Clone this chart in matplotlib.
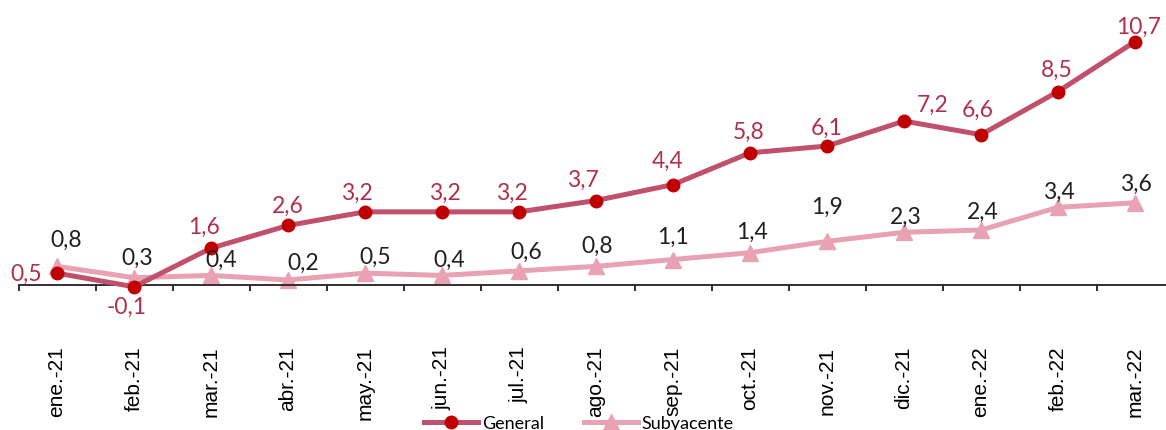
import matplotlib
matplotlib.use('Agg')
import matplotlib.pyplot as plt
from matplotlib.ticker import FixedLocator

months = ['ene.-21', 'feb.-21', 'mar.-21', 'abr.-21', 'may.-21', 'jun.-21', 'jul.-21',
          'ago.-21', 'sep.-21', 'oct.-21', 'nov.-21', 'dic.-21', 'ene.-22', 'feb.-22', 'mar.-22']
general = [0.5, -0.1, 1.6, 2.6, 3.2, 3.2, 3.2, 3.7, 4.4, 5.8, 6.1, 7.2, 6.6, 8.5, 10.7]
subyacente = [0.8, 0.3, 0.4, 0.2, 0.5, 0.4, 0.6, 0.8, 1.1, 1.4, 1.9, 2.3, 2.4, 3.4, 3.6]

# label offsets in pixels (dx, dy)
gen_off = [(-31, 0), (-7, -20), (-7, 22), (0, 20), (-8, 20), (3, 20), (-7, 20), (-13, 21),
           (-5, 24), (-1, 21), (0, 19), (29, 17), (-3, 25), (-1, 22), (4, 15)]
sub_off = [(9, 27), (3, 20), (10, 16), (15, 18), (10, 17), (7, 16), (7, 20), (1, 21),
           (0, 23), (2, 21), (0, 35), (2, 16), (2, 19), (1, 16), (1, 19)]

c_gen_line = '#C0506C'
c_gen_mark = '#C00000'
c_gen_text = '#B0304F'
c_sub = '#E8A2B3'
c_sub_text = '#231F20'

W, H = 1166, 431
fig = plt.figure(figsize=(W / 100, H / 100), dpi=100)

y0_px, px_per = 285.5, 22.7
ymin, ymax = -2, 11.5
top_px = y0_px - ymax * px_per
bot_px = y0_px - ymin * px_per
ax = fig.add_axes([18.5 / W, (H - bot_px) / H, 1155 / W, (bot_px - top_px) / H])

x = list(range(len(months)))
ax.plot(x, general, color=c_gen_line, lw=3.6, marker='o', ms=9,
        mfc=c_gen_mark, mec=c_gen_mark, label='General', clip_on=False, zorder=3)
ax.plot(x, subyacente, color=c_sub, lw=3.6, marker='^', ms=11.5,
        mfc=c_sub, mec=c_sub, label='Subyacente', clip_on=False, zorder=2)

k = 72 / 100
for i, v in enumerate(general):
    dx, dy = gen_off[i]
    ax.annotate(f'{v:.1f}'.replace('.', ','), (i, v), xytext=(dx * k, dy * k),
                textcoords='offset points', ha='center', va='center',
                fontsize=16.5, family='Lato', color=c_gen_text, zorder=5)
for i, v in enumerate(subyacente):
    dx, dy = sub_off[i]
    ax.annotate(f'{v:.1f}'.replace('.', ','), (i, v), xytext=(dx * k, dy * k),
                textcoords='offset points', ha='center', va='center',
                fontsize=16.5, family='Lato', color=c_sub_text, zorder=5)

ax.set_xlim(-0.5, len(months) - 0.5)
ax.set_ylim(ymin, ymax)
for s in ['left', 'top', 'right']:
    ax.spines[s].set_visible(False)
ax.spines['bottom'].set_position(('data', 0))
ax.spines['bottom'].set_color('#231F20')
ax.spines['bottom'].set_linewidth(1.3)
ax.set_yticks([])

ax.set_xticks(x)
ax.set_xticklabels(months, rotation=90, fontsize=15, family='Liberation Sans')
ax.tick_params(axis='x', which='major', length=0, pad=44)
ax.xaxis.set_minor_locator(FixedLocator([i - 0.5 for i in range(len(months) + 1)]))
ax.tick_params(axis='x', which='minor', length=4, width=1.3, color='#231F20', direction='out')

fig.legend(loc='center', bbox_to_anchor=(579 / W, 1 - 424 / H), ncol=2, frameon=False,
           prop={'family': 'Lato', 'size': 13}, handlelength=3, columnspacing=2.2,
           handletextpad=0.2)

fig.savefig('out.png', dpi=100)
